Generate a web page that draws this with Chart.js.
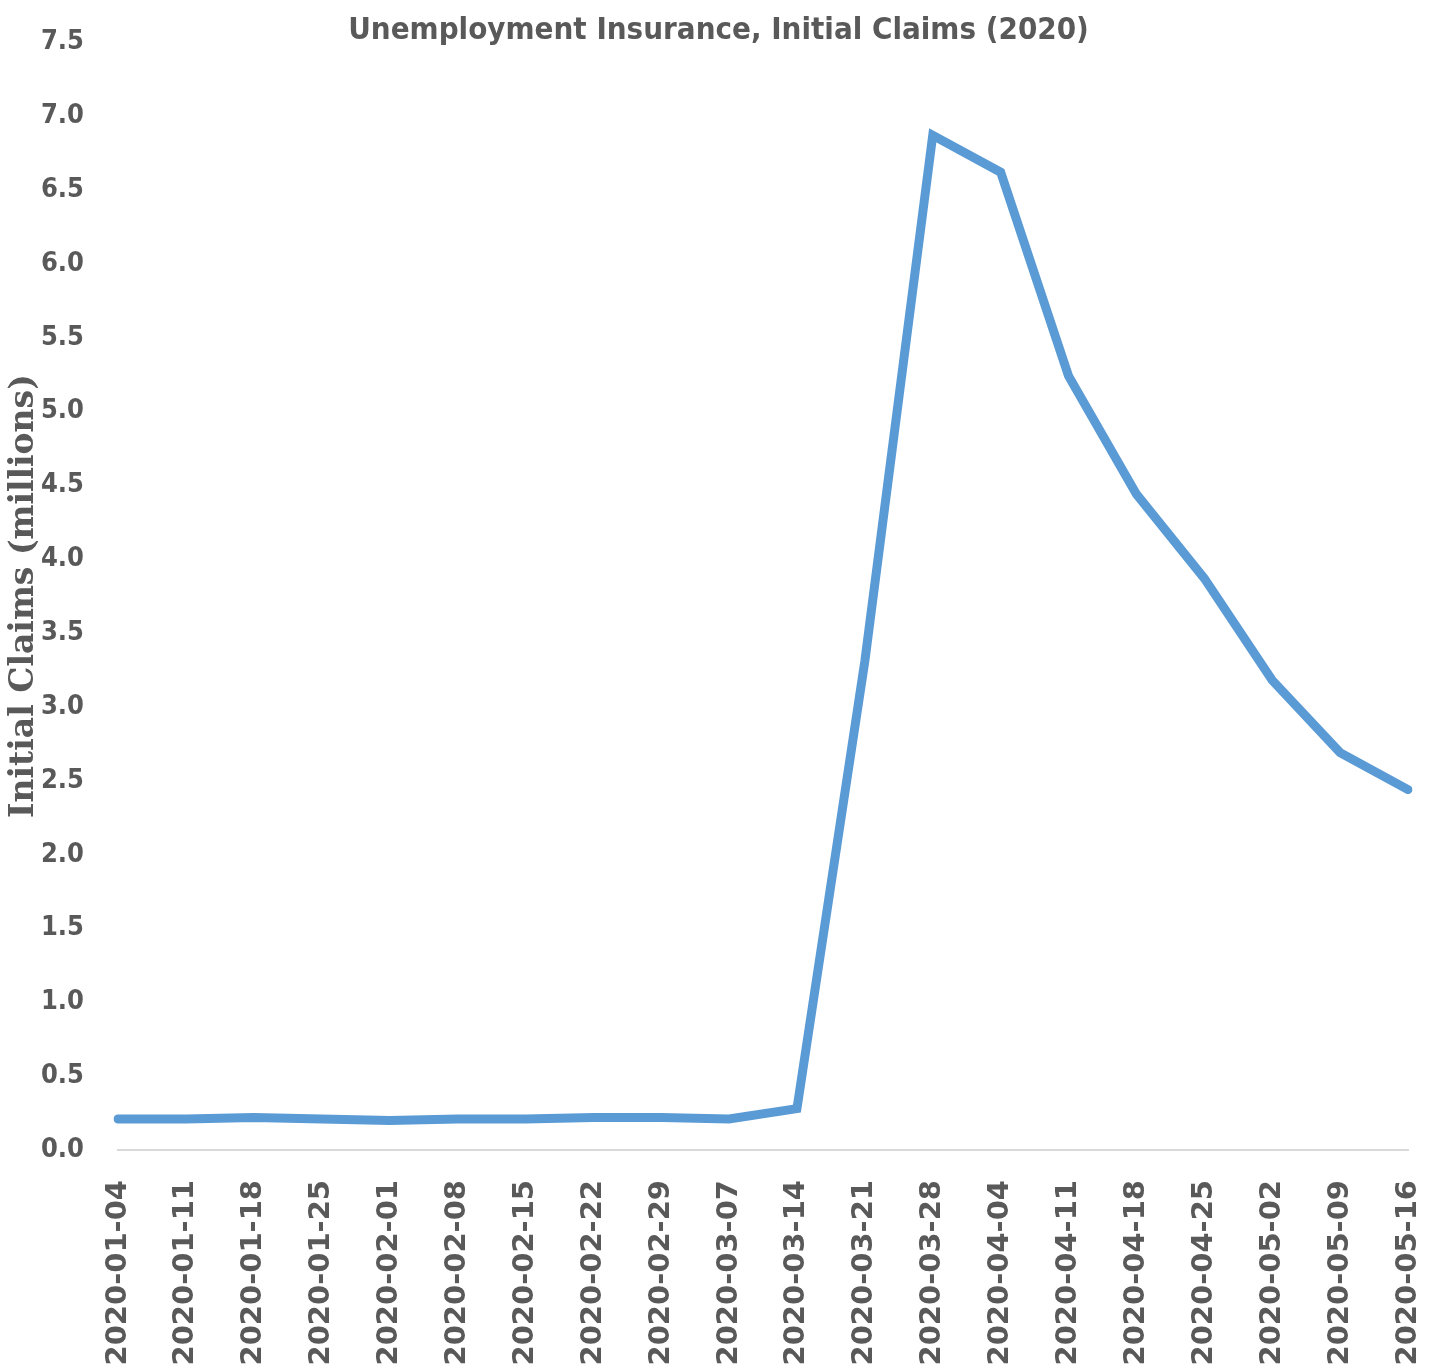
<!DOCTYPE html>
<html>
<head>
<meta charset="utf-8">
<script src="https://cdn.jsdelivr.net/npm/chart.js@4"></script>
<style>
  html, body { margin: 0; padding: 0; background: #fff; }
  #wrap { width: 1437px; height: 1369px; }
</style>
</head>
<body>
<div id="wrap"><canvas id="claimsChart"></canvas></div>
<script>
// weekly dates (week ending)
const weeks = [
    '2020-01-04', '2020-01-11', '2020-01-18', '2020-01-25', '2020-02-01',
    '2020-02-08', '2020-02-15', '2020-02-22', '2020-02-29', '2020-03-07',
    '2020-03-14', '2020-03-21', '2020-03-28', '2020-04-04', '2020-04-11',
    '2020-04-18', '2020-04-25', '2020-05-02', '2020-05-09', '2020-05-16'
]
// initial claims, millions
const claims = [
    0.21, 0.21, 0.22, 0.21, 0.20,
    0.21, 0.21, 0.22, 0.22, 0.21,
    0.28, 3.31, 6.87, 6.62, 5.24,
    4.44, 3.87, 3.18, 2.69, 2.44
]
const yMin = 0
const yMax = 7.5
const yStep = 0.5

const grey = '#595959'
const condensed = '"DejaVu Sans Condensed", "DejaVu Sans", sans-serif'

const claimsChart = new Chart(document.getElementById('claimsChart'), {
    type: 'line',
    data: {
        labels: weeks,
        datasets: [{
            label: 'Initial Claims',
            data: claims,
            borderColor: '#5b9bd5',
            backgroundColor: '#5b9bd5',
            borderWidth: 9,
            pointRadius: 0,
            tension: 0,
            borderCapStyle: 'round'
        }]
    },
    options: {
        responsive: true,
        maintainAspectRatio: false,
        animation: false,
        layout: {
            padding: 0
        },
        scales: {
            x: {
                offset: false,
                grid: { display: false },
                border: { display: true, color: '#d9d9d9', width: 2 },
                ticks: {
                    color: grey,
                    minRotation: 90,
                    maxRotation: 90,
                    autoSkip: false,
                    padding: 22,
                    font: { family: '"DejaVu Sans", sans-serif', weight: 'bold', size: 29 }
                },
                // fixed box so the plot sits where the original does
                afterFit: s => {
                    s.height = 219
                    s.paddingLeft = 0
                    s.paddingRight = 29
                }
            },
            y: {
                min: yMin,
                max: yMax,
                grid: { display: false },
                border: { display: false },
                ticks: {
                    stepSize: yStep,
                    color: grey,
                    padding: 26,
                    font: { family: condensed, weight: 'bold', size: 27 },
                    callback: v => v.toFixed(1)
                },
                title: {
                    display: true,
                    text: 'Initial Claims (millions)',
                    color: grey,
                    padding: { top: 5, bottom: 0 },
                    font: { family: '"DejaVu Serif", serif', weight: 'bold', size: 33 }
                },
                afterFit: s => { s.width = 118 }
            }
        },
        plugins: {
            title: {
                display: true,
                text: 'Unemployment Insurance, Initial Claims (2020)',
                color: grey,
                padding: { top: 3, bottom: -7 },
                font: { family: condensed, weight: 'bold', size: 31 }
            },
            legend: { display: false },
            tooltip: { enabled: false }
        }
    }
})
</script>
</body>
</html>
